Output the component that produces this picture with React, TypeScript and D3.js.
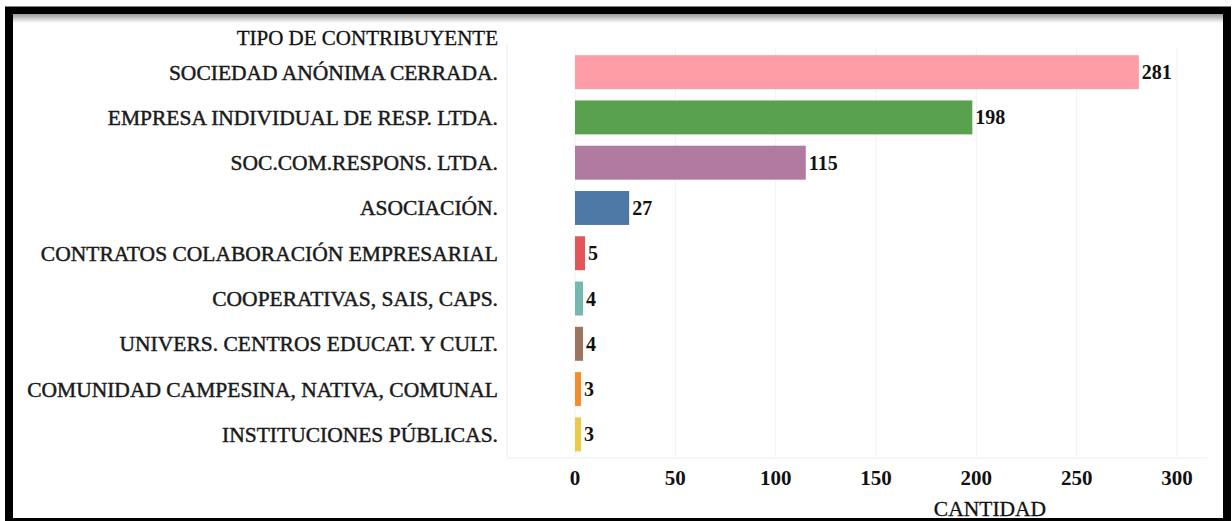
import React from "react";
import * as d3 from "d3";

const categories = [
  "SOCIEDAD ANÓNIMA CERRADA.",
  "EMPRESA INDIVIDUAL DE RESP. LTDA.",
  "SOC.COM.RESPONS. LTDA.",
  "ASOCIACIÓN.",
  "CONTRATOS COLABORACIÓN EMPRESARIAL",
  "COOPERATIVAS, SAIS, CAPS.",
  "UNIVERS. CENTROS EDUCAT. Y CULT.",
  "COMUNIDAD CAMPESINA, NATIVA, COMUNAL",
  "INSTITUCIONES PÚBLICAS.",
];
const values = [281, 198, 115, 27, 5, 4, 4, 3, 3];
const colors = ["#FF9DA7", "#59A14F", "#B07AA1", "#4E79A7", "#E15759", "#76B7B2", "#9C755F", "#F28E2B", "#EDC948"];
const ticks = [0, 50, 100, 150, 200, 250, 300];
const yTitle = "TIPO DE CONTRIBUYENTE";
const xTitle = "CANTIDAD";

const W = 1232;
const H = 521;
const FONT = "'Liberation Serif', 'DejaVu Serif', serif";

export default function App() {
  const x = d3.scaleLinear().domain([0, 300]).range([575, 1177]);
  const y = d3.scaleBand<string>().domain(categories).range([49.5, 457]).paddingInner(0.25).paddingOuter(0.125);
  const labelX = 498;
  return (
    <svg width={W} height={H} style={{ position: "absolute", left: 0, top: 0 }} fontFamily={FONT}>
      <defs>
        <linearGradient id="shadowTop" x1="0" y1="0" x2="0" y2="1">
          <stop offset="0" stopColor="#9a9a9a" />
          <stop offset="1" stopColor="#ffffff" />
        </linearGradient>
      </defs>
      <rect x={0} y={0} width={W} height={H} fill="#fff" />
      <rect x={9} y={10.5} width={1218} height={511.5} fill="#fff" stroke="#000" strokeWidth={8} />
      <rect x={13} y={14} width={1210} height={9} fill="url(#shadowTop)" />
      {ticks.map((t) => (
        <line key={t} x1={x(t)} x2={x(t)} y1={48} y2={457} stroke="#f2f2f2" strokeWidth={1} />
      ))}
      <line x1={507} x2={507} y1={45} y2={458} stroke="#eeeeee" />
      <line x1={507} x2={1207} y1={458} y2={458} stroke="#eeeeee" />
      {categories.map((c, i) => (
        <g key={c}>
          <rect x={x(0)} y={y(c)!} width={x(values[i]) - x(0)} height={y.bandwidth()} fill={colors[i]} />
          <text x={labelX} y={y(c)! + y.bandwidth() / 2} dy="0.35em" textAnchor="end" fontSize={21.5} fill="#1a1a1a" stroke="#1a1a1a" strokeWidth={0.45}>
            {c}
          </text>
          <text x={x(values[i]) + 3} y={y(c)! + y.bandwidth() / 2} dy="0.35em" fontSize={20} fontWeight="bold" fill="#111">
            {values[i]}
          </text>
        </g>
      ))}
      <text x={labelX} y={38} dy="0.35em" textAnchor="end" fontSize={21} fill="#111" stroke="#111" strokeWidth={0.3}>
        {yTitle}
      </text>
      {ticks.map((t) => (
        <text key={t} x={x(t)} y={478} dy="0.35em" textAnchor="middle" fontSize={21} fontWeight="bold" fill="#111">
          {t}
        </text>
      ))}
      <text x={990} y={508} dy="0.35em" textAnchor="middle" fontSize={21.5} fill="#111" stroke="#111" strokeWidth={0.3}>
        {xTitle}
      </text>
    </svg>
  );
}
